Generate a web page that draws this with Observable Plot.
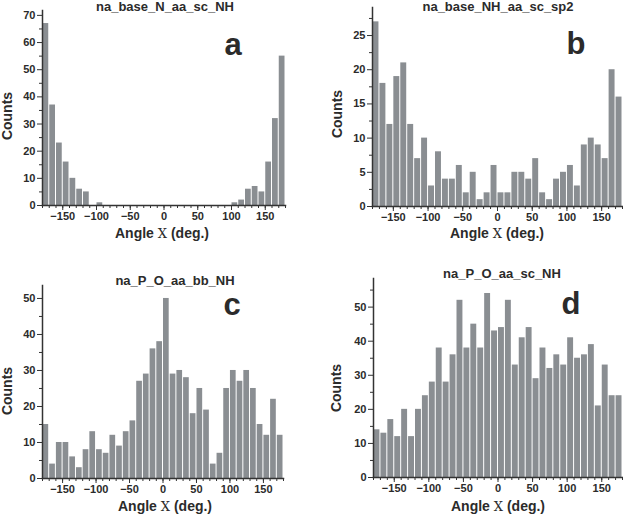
<!DOCTYPE html>
<html><head><meta charset="utf-8">
<script src="https://cdn.jsdelivr.net/npm/d3@7"></script>
<script src="https://cdn.jsdelivr.net/npm/@observablehq/plot@0.6"></script>
<style>
body{margin:0;background:#fff;}
#wrap{position:relative;width:623px;height:514px;overflow:hidden;font-family:"Liberation Sans",Arial,sans-serif;font-weight:bold;color:#2b2b2b;}
.p{position:absolute;}
.t{position:absolute;transform:translate(-50%,-50%);white-space:nowrap;font-size:13px;}
.lab{font-size:14px;}
.chi{font-family:"DejaVu Serif","Liberation Serif",serif;font-weight:normal;font-size:13px;}
.cnt{transform:translate(-50%,-50%) rotate(-90deg);font-size:14px;}
.let{font-size:31px;}
</style></head><body><div id="wrap"></div>
<script>
// bin start angles (deg), 10-degree bins
const binStart = d3.range(-180, 180, 10);
const xMajor = [-150, -100, -50, 0, 50, 100, 150];
const xMinor = d3.range(-180, 181, 10);

const countsA = [67,37,23,16,10,6,5,0,1,0,0,0,0,0,0,0,0,0, 0,0,0,0,0,0,0,0,0,0,1,2,6,7,5,16,32,55];
const countsB = [27,18,12,19,21,12,7,10,3,8,4,4,6,2,5,1,2,6, 2,2,5,5,4,7,2,1,4,5,6,3,9,10,9,7,20,16];
const countsC = [15,4,10,10,6,3,8,13,8,7,12,9,13,16,27,29,36,38, 50,29,30,28,18,25,19,4,7,25,30,27,30,25,15,12,22,12];
const countsD = [14,13,17,12,20,12,20,24,28,38,28,36,52,38,45,38,54,43, 44,52,33,41,44,29,38,32,36,33,41,35,36,39,21,33,24,24];

const titles = ["na_base_N_aa_sc_NH", "na_base_NH_aa_sc_sp2", "na_P_O_aa_bb_NH", "na_P_O_aa_sc_NH"];
const letters = ["a", "b", "c", "d"];
const yTicksA = [0,10,20,30,40,50,60,70];
const yTicksB = [0,5,10,15,20,25];
const yTicksC = [0,10,20,30,40,50];
const yTicksD = [0,10,20,30,40,50];

const panels = [
  {counts: countsA, yTicks: yTicksA, step: 10, yMax: 71.8, left: 0,   top: 0,   width: 310, height: 250, mL: 42, mR: 25, mT: 10, mB: 45,
   title: [165, 6], letter: [233, 45], xlab: [162, 233], ylab: [7, 116]},
  {counts: countsB, yTicks: yTicksB, step: 5, yMax: 29.1, left: 310, top: 0,   width: 313, height: 250, mL: 62, mR: 1,  mT: 7,  mB: 44,
   title: [498, 6], letter: [576, 44], xlab: [497, 233], ylab: [337, 114]},
  {counts: countsC, yTicks: yTicksC, step: 10, yMax: 53.6, left: 0,   top: 250, width: 310, height: 264, mL: 42, mR: 27, mT: 35, mB: 36,
   title: [175, 280], letter: [232, 305], xlab: [165, 506], ylab: [7, 391]},
  {counts: countsD, yTicks: yTicksD, step: 10, yMax: 58.4, left: 310, top: 250, width: 313, height: 264, mL: 63, mR: 1,  mT: 28, mB: 37,
   title: [502, 273], letter: [571, 304], xlab: [498, 506], ylab: [336, 388]}
];

const wrap = document.getElementById("wrap");
const ink = "#2b2b2b";

panels.forEach((p, i) => {
  const data = binStart.map((b, k) => ({x1: b, x2: b + 10, y: p.counts[k]}));
  const yMinor = d3.range(p.step / 2, p.yMax, p.step);
  const chart = Plot.plot({
    width: p.width, height: p.height,
    marginLeft: p.mL, marginRight: p.mR, marginTop: p.mT, marginBottom: p.mB,
    style: {fontFamily: '"Liberation Sans", Arial, sans-serif', background: "transparent", overflow: "visible"},
    x: {domain: [-180, 180]},
    y: {domain: [0, p.yMax]},
    marks: [
      Plot.rectY(data, {x1: "x1", x2: "x2", y: "y", fill: "#8a8e92", insetLeft: 0.5, insetRight: 0.5}),
      Plot.axisX({ticks: xMinor, tickSize: 3, tickFormat: () => "", stroke: "#333", label: null}),
      Plot.axisX({ticks: xMajor, tickSize: 5, tickPadding: 2, fontSize: 11, fontWeight: "bold", fill: ink, stroke: "#333", label: null}),
      Plot.axisY({ticks: yMinor, tickSize: 3, tickFormat: () => "", stroke: "#333", label: null}),
      Plot.axisY({ticks: p.yTicks, tickSize: 5, tickPadding: 2, fontSize: 11, fontWeight: "bold", fill: ink, stroke: "#333", label: null}),
      Plot.frame({anchor: "left", stroke: "#333", strokeWidth: 1.5}),
      Plot.frame({anchor: "bottom", stroke: "#333", strokeWidth: 1.5})
    ]
  });
  chart.classList.add("p");
  chart.style.left = p.left + "px";
  chart.style.top = p.top + "px";
  wrap.appendChild(chart);

  const mk = (cls, html, pos) => {
    const d = document.createElement("div");
    d.className = "t " + cls;
    d.innerHTML = html;
    d.style.left = pos[0] + "px";
    d.style.top = pos[1] + "px";
    wrap.appendChild(d);
  };
  mk("", titles[i], p.title);
  mk("let", letters[i], p.letter);
  mk("lab", 'Angle <span class="chi">Χ</span> (deg.)', p.xlab);
  mk("cnt", "Counts", p.ylab);
});
</script></body></html>
